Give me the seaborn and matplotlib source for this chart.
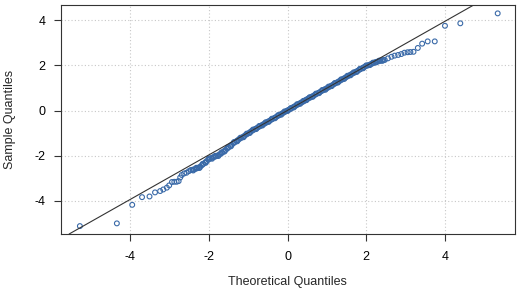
#!/usr/bin/env python3
"""
Normal Q-Q plot: sample quantiles against theoretical quantiles, with reference line
"""

import numpy as np
import pandas as pd
import seaborn as sns
import matplotlib
matplotlib.use('Agg')
import matplotlib.pyplot as plt

# Points (theoretical, sample)
theoretical = [
    -5.28, -4.34, -3.95, -3.70, -3.51, -3.37, -3.24, -3.16, -3.07, -3.01,
    -2.94, -2.88, -2.82, -2.77, -2.73, -2.69, -2.63, -2.57, -2.51, -2.46,
    -2.42, -2.38, -2.34, -2.30, -2.26, -2.22, -2.18, -2.14, -2.10, -2.06,
    -2.02, -1.98, -1.94, -1.90, -1.86, -1.82, -1.78, -1.74, -1.70, -1.66,
    -1.62, -1.58, -1.54, -1.50, -1.46, -1.42, -1.38, -1.34, -1.30, -1.26,
    -1.22, -1.18, -1.14, -1.10, -1.06, -1.02, -0.98, -0.94, -0.90, -0.86,
    -0.82, -0.78, -0.74, -0.70, -0.66, -0.62, -0.58, -0.54, -0.50, -0.46,
    -0.42, -0.38, -0.34, -0.30, -0.26, -0.22, -0.18, -0.14, -0.10, -0.06,
    -0.02, 0.02, 0.06, 0.10, 0.14, 0.18, 0.22, 0.26, 0.30, 0.34,
    0.38, 0.42, 0.46, 0.50, 0.54, 0.58, 0.62, 0.66, 0.70, 0.74,
    0.78, 0.82, 0.86, 0.90, 0.94, 0.98, 1.02, 1.06, 1.10, 1.14,
    1.18, 1.22, 1.26, 1.30, 1.34, 1.38, 1.42, 1.46, 1.50, 1.54,
    1.58, 1.62, 1.66, 1.70, 1.74, 1.78, 1.82, 1.86, 1.90, 1.94,
    1.98, 2.03, 2.07, 2.11, 2.15, 2.19, 2.23, 2.27, 2.31, 2.35,
    2.39, 2.43, 2.47, 2.55, 2.64, 2.72, 2.81, 2.89, 2.97, 3.05,
    3.12, 3.20, 3.31, 3.42, 3.56, 3.74, 4.00, 4.39, 5.34,
]
sample = [
    -5.11, -4.99, -4.17, -3.83, -3.80, -3.62, -3.56, -3.49, -3.41, -3.31,
    -3.16, -3.15, -3.15, -3.12, -2.96, -2.85, -2.78, -2.75, -2.68, -2.63,
    -2.62, -2.60, -2.58, -2.55, -2.52, -2.48, -2.42, -2.36, -2.30, -2.24,
    -2.18, -2.13, -2.10, -2.07, -2.05, -2.02, -1.99, -1.95, -1.91, -1.86,
    -1.80, -1.74, -1.69, -1.63, -1.57, -1.51, -1.45, -1.40, -1.35, -1.30,
    -1.25, -1.21, -1.17, -1.12, -1.07, -1.03, -0.99, -0.93, -0.89, -0.85,
    -0.81, -0.77, -0.73, -0.69, -0.65, -0.61, -0.57, -0.53, -0.49, -0.45,
    -0.41, -0.37, -0.33, -0.29, -0.25, -0.21, -0.17, -0.13, -0.09, -0.05,
    -0.01, 0.03, 0.06, 0.10, 0.15, 0.19, 0.23, 0.27, 0.31, 0.35,
    0.38, 0.42, 0.47, 0.51, 0.55, 0.58, 0.62, 0.66, 0.70, 0.74,
    0.78, 0.82, 0.86, 0.90, 0.94, 0.97, 1.01, 1.05, 1.09, 1.13,
    1.17, 1.21, 1.25, 1.29, 1.33, 1.37, 1.41, 1.45, 1.49, 1.53,
    1.57, 1.61, 1.65, 1.68, 1.72, 1.76, 1.80, 1.84, 1.88, 1.92,
    1.96, 1.99, 2.02, 2.05, 2.08, 2.11, 2.14, 2.16, 2.18, 2.20,
    2.22, 2.23, 2.24, 2.31, 2.38, 2.43, 2.46, 2.50, 2.56, 2.58,
    2.59, 2.60, 2.77, 2.96, 3.06, 3.06, 3.75, 3.86, 4.30,
]

# Extra points in the dense middle band (they make it thicker)
band_theoretical = [
    -2.40, -2.32, -2.24, -2.16, -2.08, -2.00, -1.92, -1.84, -1.76, -1.68,
    -1.60, -1.52, -1.44, -1.36, -1.28, -1.20, -1.12, -1.04, -0.96, -0.88,
    -0.80, -0.72, -0.64, -0.56, -0.48, -0.40, -0.32, -0.24, -0.16, -0.08,
    0.00, 0.08, 0.16, 0.24, 0.32, 0.40, 0.48, 0.56, 0.64, 0.72,
    0.80, 0.88, 0.96, 1.04, 1.12, 1.20, 1.28, 1.36, 1.44, 1.52,
    1.60, 1.68, 1.76, 1.84, 1.92, 2.00, 2.09, 2.17, 2.25, 2.33,
    2.41,
]
band_sample = [
    -2.65, -2.53, -2.54, -2.36, -2.31, -2.12, -2.13, -2.00, -2.01, -1.85,
    -1.81, -1.63, -1.58, -1.39, -1.36, -1.20, -1.18, -1.02, -0.99, -0.84,
    -0.82, -0.68, -0.66, -0.52, -0.50, -0.36, -0.34, -0.20, -0.18, -0.04,
    -0.02, 0.11, 0.14, 0.28, 0.30, 0.43, 0.46, 0.59, 0.61, 0.75,
    0.77, 0.91, 0.92, 1.06, 1.08, 1.22, 1.24, 1.38, 1.40, 1.54,
    1.56, 1.69, 1.71, 1.85, 1.87, 2.00, 2.01, 2.12, 2.13, 2.21,
    2.20,
]

# Reference line (qqline)
line_intercept = 0.01
line_slope = 0.985

x_ticks = [-4, -2, 0, 2, 4]
y_ticks = [-4, -2, 0, 2, 4]

point_color = '#3a6aa8'
frame_color = '#333333'

sns.set_style('white')
plt.rcParams['font.family'] = ['Liberation Sans', 'DejaVu Sans']
plt.rcParams['axes.unicode_minus'] = False


def main():
    df = pd.DataFrame({'theoretical': theoretical + band_theoretical,
                       'sample': sample + band_sample})

    fig = plt.figure(figsize=(5.19, 2.92), dpi=100)
    ax = fig.add_axes([61 / 519, 1 - 234 / 292, 454 / 519, 229 / 292])

    sns.scatterplot(data=df, x='theoretical', y='sample', ax=ax,
                    marker='o', s=12, facecolor='none',
                    edgecolor=point_color, linewidth=0.8, zorder=3)

    ax.axline((0, line_intercept), slope=line_slope, color=frame_color,
              lw=0.8, zorder=4)

    ax.set_xlim(-5.76, 5.78)
    ax.set_ylim(-5.46, 4.67)
    ax.set_xticks(x_ticks)
    ax.set_yticks(y_ticks)
    ax.set_xticklabels([str(t) for t in x_ticks])
    ax.set_yticklabels([str(t) for t in y_ticks])

    ax.grid(True, color='#c8c8c8', linestyle=(0, (1, 2)), linewidth=0.8)
    ax.set_axisbelow(True)

    for sp in ax.spines.values():
        sp.set_visible(True)
        sp.set_color(frame_color)
        sp.set_linewidth(0.8)

    ax.tick_params(axis='both', which='both', direction='out', length=5,
                   width=0.8, color=frame_color, labelsize=9,
                   labelcolor='black', bottom=True, left=True,
                   top=False, right=False)
    ax.tick_params(axis='x', pad=7)
    ax.tick_params(axis='y', pad=6)

    ax.set_xlabel('Theoretical Quantiles', fontsize=9)
    ax.set_ylabel('Sample Quantiles', fontsize=9)
    ax.xaxis.set_label_coords(0.498, -0.183)
    ax.yaxis.set_label_coords(-0.099, 0.5)

    fig.savefig('out.png', dpi=100)
    plt.close(fig)


if __name__ == "__main__":
    main()
